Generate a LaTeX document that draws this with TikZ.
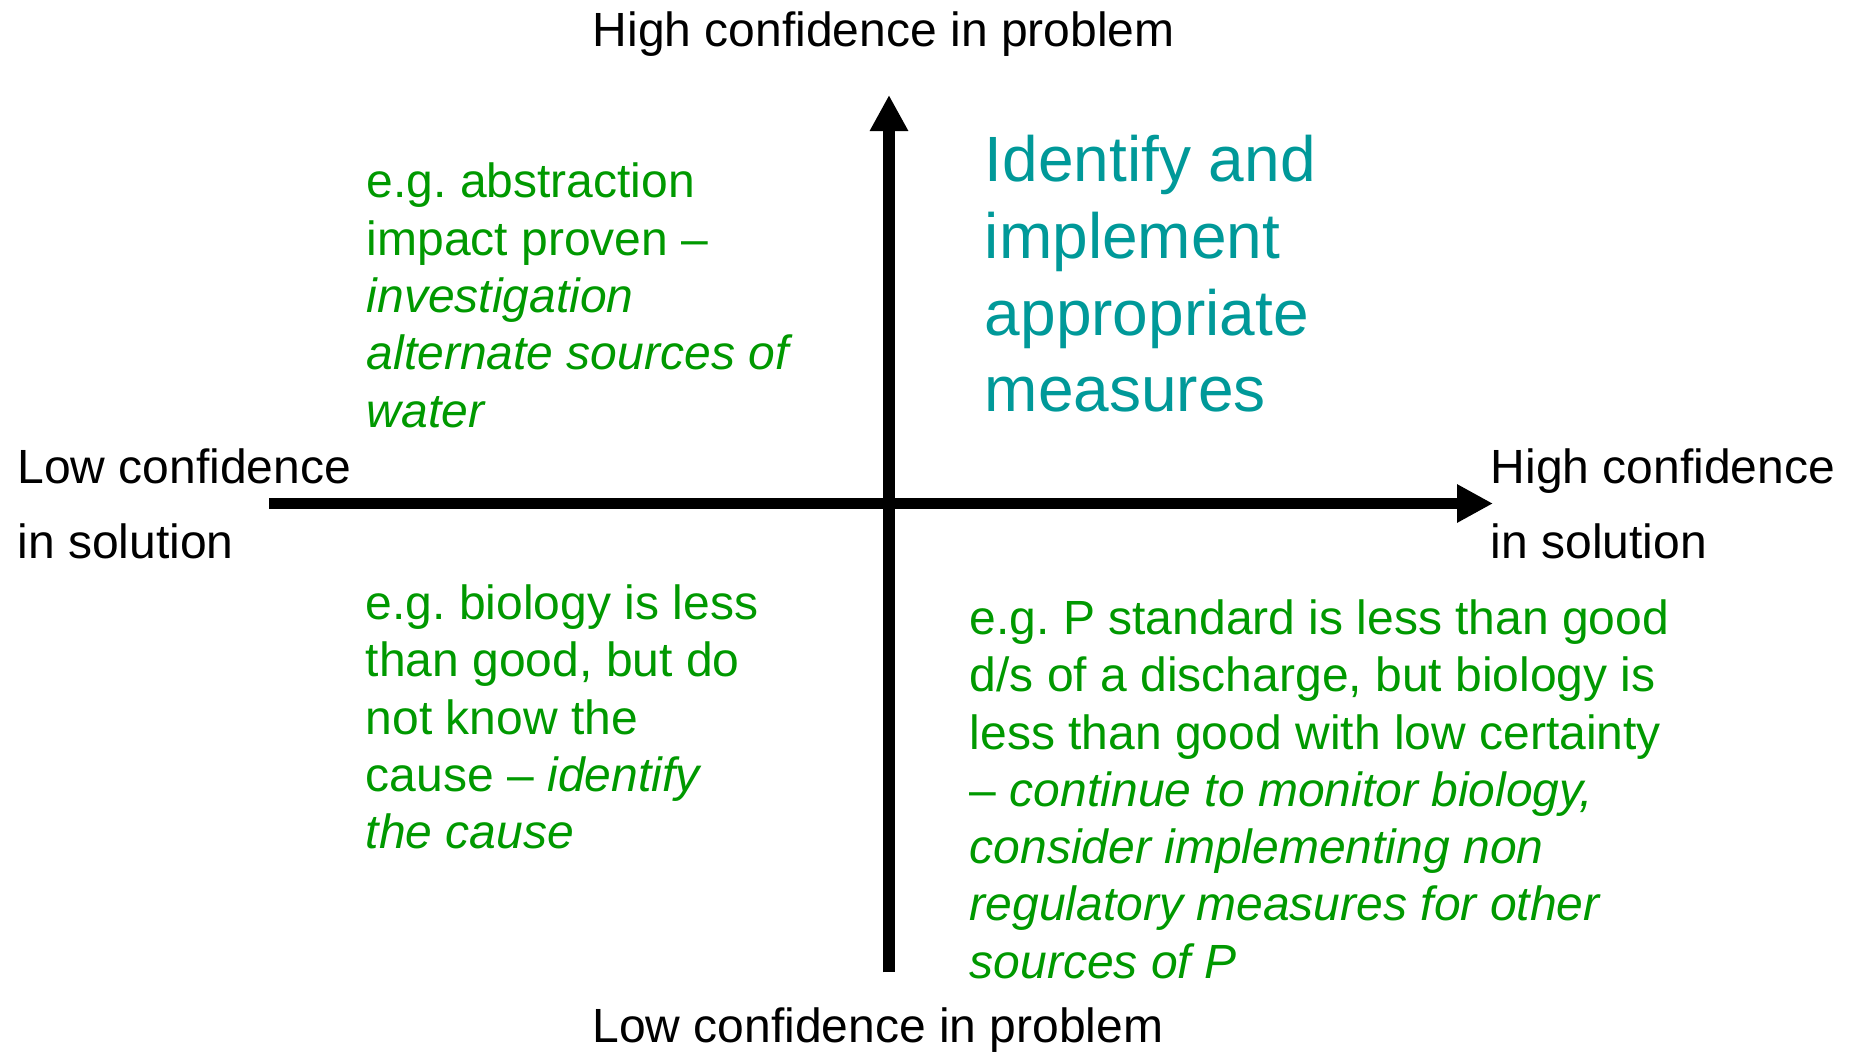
\documentclass[tikz,border=0pt]{standalone}
\usepackage{fontspec}
\setmainfont{Liberation Sans}
\usetikzlibrary{arrows.meta}
\definecolor{egreen}{RGB}{0,153,0}
\definecolor{eteal}{RGB}{0,153,153}
\frenchspacing
\tikzset{
  axisline/.style={line width=5.9pt,-{Triangle[length=18pt,width=18pt]}},
  axislabel/.style={anchor=base west,inner sep=0pt,font=\fontsize{24}{37.5}\selectfont,align=left},
  egtext/.style={anchor=base west,inner sep=0pt,text=egreen,font=\fontsize{24}{28.65}\selectfont,align=left},
  bigtext/.style={anchor=base west,inner sep=0pt,text=eteal,font=\fontsize{32}{38.35}\selectfont,align=left}
}
\begin{document}
\begin{tikzpicture}[x=0.5pt,y=-0.5pt]
\useasboundingbox[fill=white] (0,0) rectangle (1854,1051);
\coordinate (hstart) at (269,503.5);
\coordinate (hend) at (1493,503.5);
\coordinate (vstart) at (889,972.3);
\coordinate (vend) at (889,95);
\draw[axisline] (hstart) -- (hend);
\draw[axisline] (vstart) -- (vend);
% multi-line nodes: base anchor = baseline of last line
\node[axislabel] (top) at (592.5,46) {High confidence in problem};
\node[axislabel] (bottom) at (592,1042) {Low confidence in problem};
\node[axislabel] (left) at (17,558) {Low confidence\\in solution};
\node[axislabel] (right) at (1490.5,558) {High confidence\\in solution};
\node[bigtext] (tr) at (984.5,411.7) {Identify and\\implement\\appropriate\\measures};
\node[egtext] (tl) at (366.5,427.1) {e.g. abstraction\\impact proven --\\\textit{investigation}\\\textit{alternate sources of}\\\textit{water}};
\node[egtext] (bl) at (365.5,848.7) {e.g. biology is less\\than good, but do\\not know the\\cause -- \textit{identify}\\\textit{the cause}};
\node[egtext] (br) at (969.5,978.2) {e.g. P standard is less than good\\d/s of a discharge, but biology is\\less than good with low certainty\\-- \textit{continue to monitor biology,}\\\textit{consider implementing non}\\\textit{regulatory measures for other}\\\textit{sources of P}};
\end{tikzpicture}
\end{document}
